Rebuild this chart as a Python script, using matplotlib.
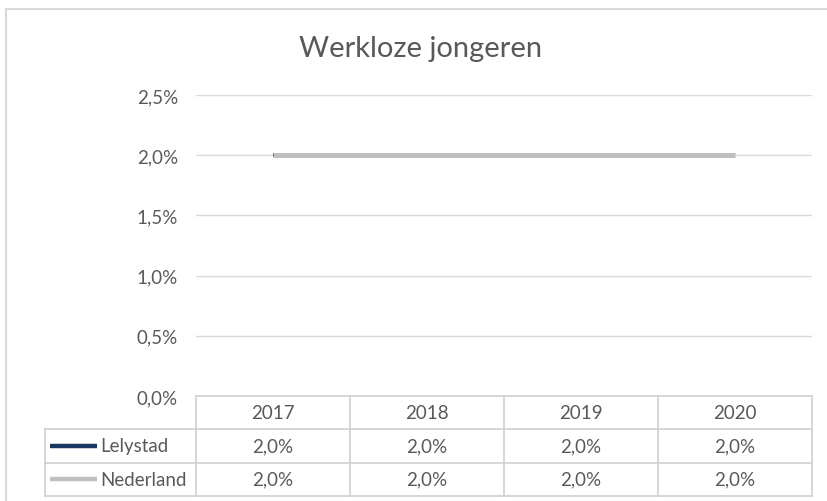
import numpy as np
import matplotlib
matplotlib.use("Agg")
import matplotlib.pyplot as plt
from matplotlib.patches import Rectangle
from matplotlib.ticker import FuncFormatter

years = ["2017", "2018", "2019", "2020"]
lelystad = [2.0, 2.0, 2.0, 2.0]
nederland = [2.0, 2.0, 2.0, 2.0]
series_names = ["Lelystad", "Nederland"]
y_ticks = [0.0, 0.5, 1.0, 1.5, 2.0, 2.5]

colors = ["#17375E", "#BFBFBF"]
text_col = "#595959"
grid_col = "#D9D9D9"

plt.rcParams["font.family"] = ["Lato", "DejaVu Sans"]

W, H = 827, 502
fig = plt.figure(figsize=(W / 100, H / 100), dpi=100)


def fx(px):
    return px / W


def fy(py):
    return 1 - py / H


def pct(v):
    return f"{v:.1f}%".replace(".", ",")


# outer chart frame
fig.patches.append(Rectangle((fx(6), fy(520)), fx(840), fy(10) - fy(520),
                             transform=fig.transFigure, fill=False,
                             edgecolor="#D9D9D9", lw=1.5))

fig.text(fx(421), fy(49), "Werkloze jongeren", ha="center", va="center",
         fontsize=21, color=text_col)

# plot area
left, right, top, bottom = 196, 812, 96, 397
ax = fig.add_axes([fx(left), fy(bottom), fx(right - left), fy(top) - fy(bottom)])
x = np.arange(len(years))
ax.plot(x, lelystad, color=colors[0], lw=2.6, solid_capstyle="butt")
ax.plot(x, nederland, color=colors[1], lw=3.6, solid_capstyle="butt")
ax.set_xlim(-0.5, len(years) - 0.5)
ax.set_ylim(0, 2.5)
ax.set_yticks(y_ticks)
ax.yaxis.set_major_formatter(FuncFormatter(lambda v, p: pct(v)))
ax.tick_params(axis="y", length=0, pad=13, labelsize=13.5, labelcolor=text_col)
ax.set_xticks([])
ax.grid(axis="y", color=grid_col, lw=1)
ax.set_axisbelow(True)
for s in ax.spines.values():
    s.set_visible(False)

# data table below the plot
col_w = (right - left) / len(years)
tleft = 45
tb = fig.add_axes([fx(tleft), fy(497), fx(right - tleft), fy(bottom) - fy(497)])
x0 = -0.5 - (left - tleft) / col_w
tb.set_xlim(x0, len(years) - 0.5)
tb.set_ylim(3, 0)
tb.axis("off")
tc = "#D0D0D0"
lw = 1.2
tb.plot([-0.5, len(years) - 0.5], [0, 0], color=tc, lw=lw, clip_on=False)
for r in (1, 2, 3):
    tb.plot([x0, len(years) - 0.5], [r, r], color=tc, lw=lw, clip_on=False)
tb.plot([x0, x0], [1, 3], color=tc, lw=lw, clip_on=False)
for c in range(len(years) + 1):
    tb.plot([c - 0.5, c - 0.5], [0, 3], color=tc, lw=lw, clip_on=False)

fs = 13.5
for i, yr in enumerate(years):
    tb.text(i, 0.5, yr, ha="center", va="center", fontsize=fs, color=text_col)

for r, (name, vals) in enumerate(zip(series_names, [lelystad, nederland]), start=1):
    kx = x0 + 5 / col_w
    tb.plot([kx, kx + 47 / col_w], [r + 0.5, r + 0.5], color=colors[r - 1], lw=3.2,
            solid_capstyle="butt")
    tb.text(kx + 50 / col_w, r + 0.5, name, ha="left", va="center",
            fontsize=fs, color=text_col)
    for i, v in enumerate(vals):
        tb.text(i, r + 0.5, pct(v), ha="center", va="center",
                fontsize=fs, color=text_col)

fig.savefig("out.png", dpi=100, facecolor="white")
